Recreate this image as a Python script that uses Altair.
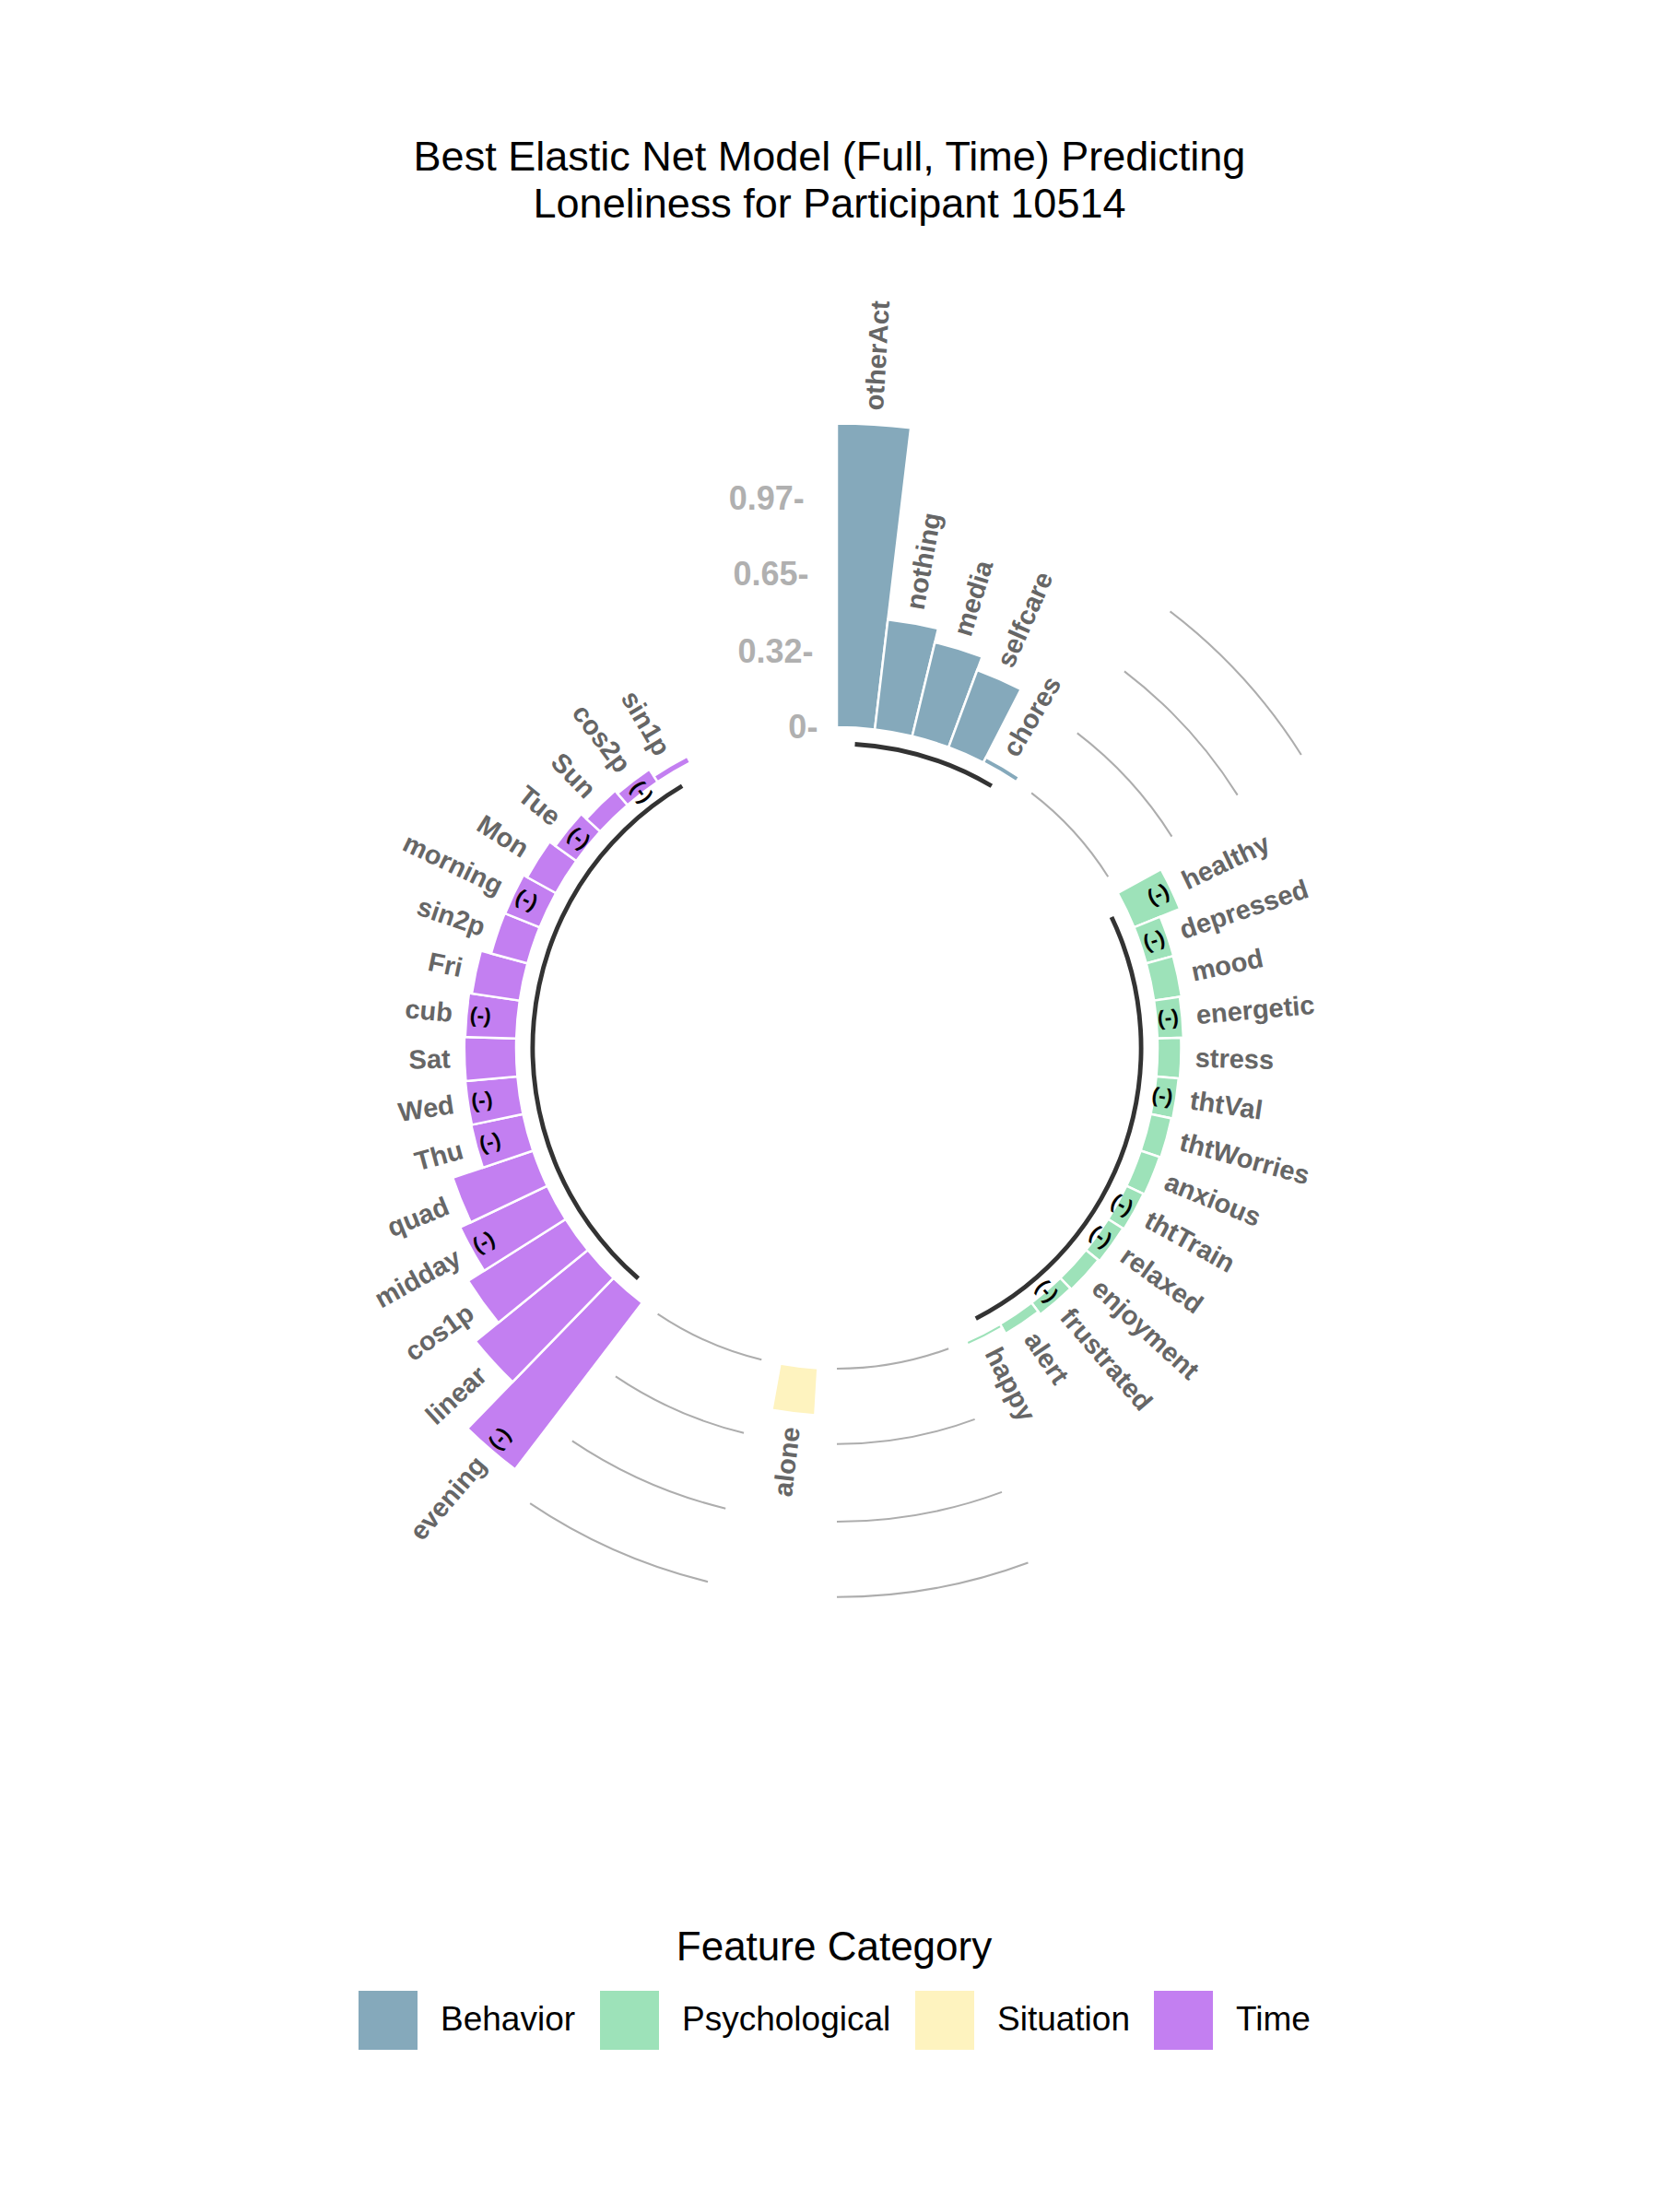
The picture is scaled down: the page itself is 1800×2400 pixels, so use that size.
import altair as alt
import pandas as pd
import numpy as np

# ---------------- data ----------------
group_names = ["Behavior", "Psychological", "Situation", "Time"]
group_colors = ["#85A9BB", "#9DE2B9", "#FEF3BF", "#C37FF1"]

behavior_features = ["otherAct", "nothing", "media", "selfcare", "chores"]
behavior_values = [1.29, 0.47, 0.41, 0.35, 0.025]
behavior_negative = [False, False, False, False, False]

psych_features = ["healthy", "depressed", "mood", "energetic", "stress", "thtVal",
                  "thtWorries", "anxious", "thtTrain", "relaxed", "enjoyment",
                  "frustrated", "alert", "happy"]
psych_values = [0.21, 0.12, 0.118, 0.11, 0.10, 0.095, 0.09, 0.085, 0.08, 0.075,
                0.068, 0.062, 0.048, 0.018]
psych_negative = [True, True, False, True, False, True, False, False, True, True,
                  False, True, False, False]

situation_features = ["alone"]
situation_values = [0.20]
situation_negative = [False]

time_features = ["evening", "linear", "cos1p", "midday", "quad", "Thu", "Wed", "Sat",
                 "cub", "Fri", "sin2p", "morning", "Mon", "Tue", "Sun", "cos2p", "sin1p"]
time_values = [0.89, 0.615, 0.49, 0.41, 0.36, 0.225, 0.222, 0.22, 0.217, 0.205,
               0.16, 0.158, 0.14, 0.11, 0.08, 0.065, 0.03]
time_negative = [True, False, False, True, False, True, True, False, True, False,
                 False, True, False, True, False, True, False]

tick_values = [0, 0.32, 0.65, 0.97]
tick_labels = ["0-", "0.32-", "0.65-", "0.97-"]

empty_bar = 4
inner_lower = -1.362   # y value at the centre of the circle
y_max = 1.29

# ---------------- build tables ----------------
groups_data = [
    ("Behavior", behavior_features, behavior_values, behavior_negative),
    ("Psychological", psych_features, psych_values, psych_negative),
    ("Situation", situation_features, situation_values, situation_negative),
    ("Time", time_features, time_values, time_negative),
]

rows = []
cur = 1
for g, feats, vals, negs in groups_data:
    for f, v, n in zip(feats, vals, negs):
        rows.append(dict(id=cur, feature=f, value=v, group=g, neg=n))
        cur += 1
    cur += empty_bar
n_slots = cur - 1

bars = pd.DataFrame(rows)
bars["t0"] = bars["id"] - 0.5
bars["t1"] = bars["id"] + 0.5
bars["base"] = 0.0
theta_deg = (bars["id"] - 0.5) / n_slots * 360.0
bars["right"] = theta_deg <= 180
bars["ang"] = np.where(bars["right"], theta_deg - 90.0, theta_deg - 270.0) % 360.0
bars["lab_r"] = bars["value"] + 0.06
bars["neg_r"] = bars["value"] - 0.015
bars["negtxt"] = "(-)"

# group base arcs
base = bars.groupby("group", sort=False)["id"].agg(["min", "max"]).reset_index()
base["r_in"] = -0.07 - 0.0095
base["r_out"] = -0.07 + 0.0095

# grid arcs in the gaps
grid_rows = []
ends = list(base["max"])
starts = list(base["min"])
for i in range(1, len(base)):
    for lv in tick_values:
        grid_rows.append(dict(t0=ends[i - 1] + 1, t1=starts[i] - 1,
                              r_in=lv - 0.004, r_out=lv + 0.004))
grid = pd.DataFrame(grid_rows)

ticks = pd.DataFrame(dict(t=[n_slots] * len(tick_values), r=tick_values, label=tick_labels))

# ---------------- scales ----------------
CX, CY = 908, 837
theta_scale = alt.Scale(type="linear", domain=[0.5, n_slots + 0.5], range=[0, 2 * np.pi], zero=False, nice=False)
radius_scale = alt.Scale(type="linear", domain=[inner_lower, y_max],
                         range=[0, (y_max - inner_lower) * 255.5], zero=False, nice=False)

FONT = "Liberation Sans"

grid_layer = alt.Chart(grid).mark_arc(color="#ADADAD").encode(
    theta=alt.Theta("t0:Q", scale=theta_scale, stack=False),
    theta2="t1:Q",
    radius=alt.Radius("r_out:Q", scale=radius_scale),
    radius2="r_in:Q",
    x=alt.value(CX), y=alt.value(CY),
)

bar_layer = alt.Chart(bars).mark_arc(stroke="white", strokeWidth=2.5).encode(
    theta=alt.Theta("t0:Q", scale=theta_scale, stack=False),
    theta2="t1:Q",
    radius=alt.Radius("value:Q", scale=radius_scale),
    radius2="base:Q",
    color=alt.Color("group:N",
                    scale=alt.Scale(domain=group_names, range=group_colors),
                    legend=alt.Legend(
                        orient="none", legendX=389, legendY=1792, direction="horizontal",
                        title="Feature Category", titleFontSize=44, titleFont=FONT,
                        titleFontWeight="normal", titleColor="black", titleAnchor="middle",
                        titleOrient="top", titlePadding=24, titleLimit=0,
                        labelFontSize=37, labelFont=FONT, labelColor="black", labelLimit=0,
                        symbolType="square", symbolSize=4096, symbolStrokeWidth=0,
                        symbolOpacity=1, labelOffset=25, columnPadding=26, padding=0)),
    x=alt.value(CX), y=alt.value(CY),
)

base_layer = alt.Chart(base).mark_arc(color="#333333").encode(
    theta=alt.Theta("min:Q", scale=theta_scale, stack=False),
    theta2="max:Q",
    radius=alt.Radius("r_out:Q", scale=radius_scale),
    radius2="r_in:Q",
    x=alt.value(CX), y=alt.value(CY),
)

tick_layer = alt.Chart(ticks).mark_text(
    align="right", baseline="middle", font=FONT, fontWeight="bold", fontSize=36, color="#B0B0B0"
).encode(
    theta=alt.Theta("t:Q", scale=theta_scale, stack=False),
    radius=alt.Radius("r:Q", scale=radius_scale),
    text="label:N",
    x=alt.value(CX), y=alt.value(CY),
)

right_df = bars[bars["right"]]
left_df = bars[~bars["right"]]


def label_layer(df, align):
    return alt.Chart(df).mark_text(
        align=align, baseline="middle", font=FONT, fontWeight="bold", fontSize=29, color="#666666"
    ).encode(
        theta=alt.Theta("id:Q", scale=theta_scale, stack=False),
        radius=alt.Radius("lab_r:Q", scale=radius_scale),
        angle=alt.Angle("ang:Q", scale=None),
        text="feature:N",
        x=alt.value(CX), y=alt.value(CY),
    )


def neg_layer(df, align):
    return alt.Chart(df[df["neg"]]).mark_text(
        align=align, baseline="middle", font=FONT, fontWeight="bold", fontSize=23, color="black"
    ).encode(
        theta=alt.Theta("id:Q", scale=theta_scale, stack=False),
        radius=alt.Radius("neg_r:Q", scale=radius_scale),
        angle=alt.Angle("ang:Q", scale=None),
        text="negtxt:N",
        x=alt.value(CX), y=alt.value(CY),
    )


chart = alt.layer(
    grid_layer, bar_layer, base_layer, tick_layer,
    label_layer(right_df, "left"), label_layer(left_df, "right"),
    neg_layer(right_df, "right"), neg_layer(left_df, "left"),
).properties(
    width=1800, height=2100,
    background="white",
    padding={"left": 0, "right": 0, "top": 300, "bottom": 0},
    autosize=alt.AutoSizeParams(type="none"),
    title=alt.TitleParams(
        text=["Best Elastic Net Model (Full, Time) Predicting", "Loneliness for Participant 10514"],
        fontSize=45, font=FONT, fontWeight="normal", color="black", anchor="middle",
        frame="group", lineHeight=51, offset=55),
).configure_view(strokeWidth=0, stroke="transparent")

chart.save("out.html", embed_options={"renderer": "svg", "actions": False})
